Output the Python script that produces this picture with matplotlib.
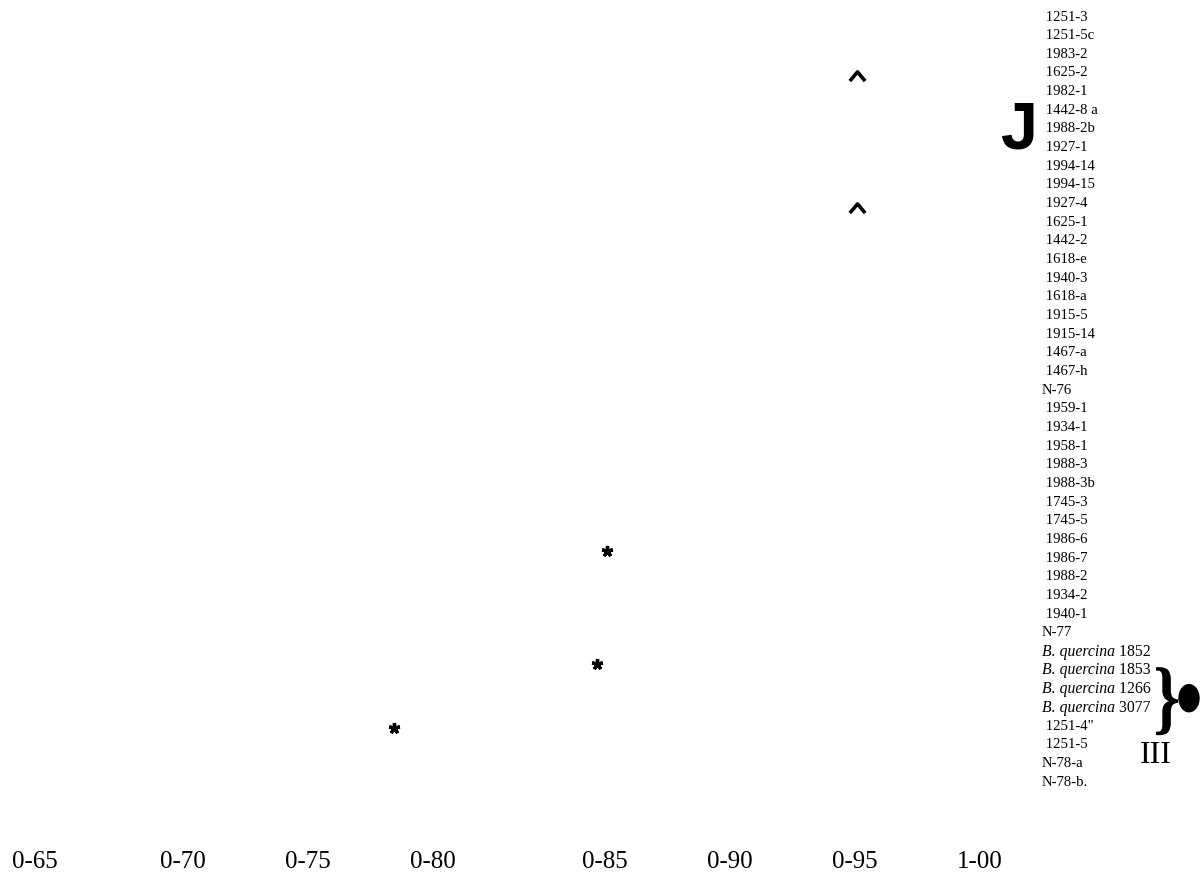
import matplotlib.pyplot as plt
from matplotlib.textpath import TextPath
from matplotlib.patches import PathPatch, Ellipse
from matplotlib.font_manager import FontProperties
from matplotlib.transforms import Affine2D, ScaledTranslation

plt.rcParams['font.family'] = 'Liberation Serif'

# strain labels, top to bottom ("B. quercina" part is set in italics)
labels = [" 1251-3", " 1251-5c", " 1983-2", " 1625-2", " 1982-1", " 1442-8 a",
          " 1988-2b", " 1927-1", " 1994-14", " 1994-15", " 1927-4", " 1625-1",
          " 1442-2", " 1618-e", " 1940-3", " 1618-a", " 1915-5", " 1915-14",
          " 1467-a", " 1467-h", "N-76", " 1959-1", " 1934-1", " 1958-1",
          " 1988-3", " 1988-3b", " 1745-3", " 1745-5", " 1986-6", " 1986-7",
          " 1988-2", " 1934-2", " 1940-1", "N-77",
          "B. quercina|1852", "B. quercina|1853", "B. quercina|1266", "B. quercina|3077",
          ' 1251-4"', " 1251-5", "N-78-a", "N-78-b."]

# similarity axis (scale as printed, slightly uneven on the left)
tick_pos = [0.622, 0.681, 0.731, 0.781, 0.850, 0.900, 0.950, 1.000]
tick_lbl = ["0-65", "0-70", "0-75", "0-80", "0-85", "0-90", "0-95", "1-00"]

# node symbols: similarity, row position
star_x = [0.8508, 0.8468, 0.7656]
star_y = [28.6, 34.67, 38.1]
caret_x = [0.9508, 0.9508]
caret_y = [3.16, 10.24]

fig = plt.figure(figsize=(12, 8.82), dpi=100)
ax = fig.add_axes([0, 0.0476, 1, 0.9524])
ax.set_xlim(0.608, 1.088)
ax.set_ylim(44.1, -0.911)
for s in ax.spines.values():
    s.set_visible(False)
ax.set_yticks([])
ax.set_xticks(tick_pos)
ax.set_xticklabels(tick_lbl, fontsize=18)
ax.tick_params(axis='x', length=0, pad=8)

for i, lab in enumerate(labels):
    if "|" in lab:
        sp, num = lab.split("|")
        t = ax.text(1.0248, i, sp, fontsize=11.3, style='italic', ha='left', va='center')
        ax.annotate(" " + num, xy=(1, 0), xycoords=t, fontsize=11.3,
                    ha='left', va='bottom')
    else:
        ax.text(1.0248, i, lab, fontsize=10.6, ha='left', va='center')

ax.plot(star_x, star_y, ls='none', marker=(5, 2, 0), ms=8, mew=2.4, color='black')
caret = [(-1, -0.6), (0, 0.6), (1, -0.6)]
ax.plot(caret_x, caret_y, ls='none', marker=caret, ms=11, mfc='none',
        mec='black', mew=2.6)

# group marks
ax.text(1.0156, 6.15, "J", family='Liberation Sans', fontweight='bold',
        fontsize=48, ha='center', va='center')

# tall narrow brace for group III
tp = TextPath((0, 0), "}", size=1, prop=FontProperties(family='Liberation Serif', weight='bold'))
ext = tp.get_extents()
bw, bh = 22, 68
tr = (Affine2D().translate(-(ext.x0 + ext.x1) / 2, -(ext.y0 + ext.y1) / 2)
      .scale(bw / ext.width, bh / ext.height)
      + ScaledTranslation(1.0748, 36.66, ax.transData))
ax.add_patch(PathPatch(tp, transform=tr, color='black', lw=0))

ax.add_patch(Ellipse((1.0836, 36.5), 0.008, 1.45, color='black'))
ax.text(1.0704, 39.55, "III", fontsize=23, ha='center', va='center')

fig.savefig('out.png')
